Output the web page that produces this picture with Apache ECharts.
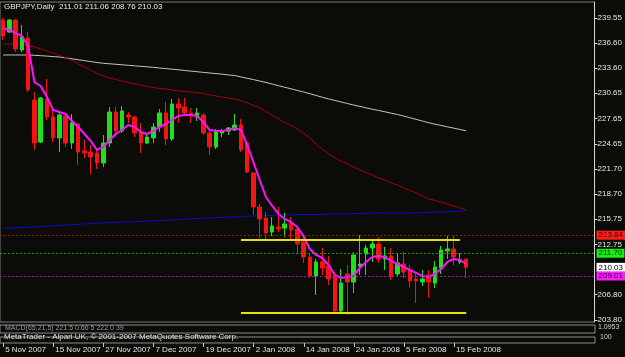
<!DOCTYPE html>
<html><head><meta charset="utf-8">
<script src="https://cdn.jsdelivr.net/npm/echarts@6/dist/echarts.min.js"></script>
<style>html,body{margin:0;padding:0;background:#0b0b08;}#c{width:625px;height:357px;}</style>
</head><body><div id="c"></div><script>
// ---- data ----
const dates = ['5 Nov 2007','6 Nov 2007','7 Nov 2007','8 Nov 2007','9 Nov 2007','12 Nov 2007','13 Nov 2007','14 Nov 2007',
 '15 Nov 2007','16 Nov 2007','19 Nov 2007','20 Nov 2007','21 Nov 2007','22 Nov 2007','23 Nov 2007','26 Nov 2007',
 '27 Nov 2007','28 Nov 2007','29 Nov 2007','30 Nov 2007','3 Dec 2007','4 Dec 2007','5 Dec 2007','6 Dec 2007',
 '7 Dec 2007','10 Dec 2007','11 Dec 2007','12 Dec 2007','13 Dec 2007','14 Dec 2007','17 Dec 2007','18 Dec 2007',
 '19 Dec 2007','20 Dec 2007','21 Dec 2007','24 Dec 2007','26 Dec 2007','27 Dec 2007','28 Dec 2007','31 Dec 2007',
 '2 Jan 2008','3 Jan 2008','4 Jan 2008','7 Jan 2008','8 Jan 2008','9 Jan 2008','10 Jan 2008','11 Jan 2008',
 '14 Jan 2008','15 Jan 2008','16 Jan 2008','17 Jan 2008','18 Jan 2008','21 Jan 2008','22 Jan 2008','23 Jan 2008',
 '24 Jan 2008','25 Jan 2008','28 Jan 2008','29 Jan 2008','30 Jan 2008','31 Jan 2008','1 Feb 2008','4 Feb 2008',
 '5 Feb 2008','6 Feb 2008','7 Feb 2008','8 Feb 2008','11 Feb 2008','12 Feb 2008','13 Feb 2008','14 Feb 2008',
 '15 Feb 2008','18 Feb 2008','19 Feb 2008'];

const opens = [239.31,237.89,239.31,235.76,237.18,229.84,224.87,229.96,227.83,225.35,
 227.95,224.75,227.00,223.81,223.69,223.57,222.39,224.75,228.42,226.17,
 228.07,227.83,226.06,224.75,225.35,226.65,228.31,225.23,229.37,229.02,
 228.31,227.83,228.07,225.94,224.28,225.94,226.17,226.29,226.88,224.75,
 221.20,217.18,215.88,214.22,214.81,214.69,215.28,214.57,213.03,211.26,
 209.01,210.67,210.19,209.01,204.87,209.25,208.30,210.19,211.61,212.32,
 212.80,211.02,211.38,209.25,210.43,209.72,208.66,208.30,209.13,208.18,
 209.96,211.97,212.21,210.67,211.01];
const closes = [237.42,239.31,235.88,237.30,231.03,224.75,230.08,227.83,225.35,228.07,
 224.75,227.12,223.69,223.57,223.10,222.39,224.75,228.42,226.17,228.54,
 227.83,225.94,224.75,225.46,226.65,228.31,225.23,229.37,228.90,228.31,
 227.95,228.31,225.94,224.28,226.06,226.17,226.53,226.88,223.93,221.32,
 217.18,215.76,214.10,214.93,214.57,215.17,214.45,212.80,211.26,209.01,
 210.67,209.96,208.66,204.87,208.18,208.30,211.50,210.43,212.32,212.80,
 211.02,211.38,209.01,210.55,209.48,208.42,208.42,208.66,208.30,210.08,
 212.09,212.21,211.26,210.90,210.03];
const lows = [236.95,237.77,235.53,235.53,230.79,223.93,224.75,227.48,224.87,223.69,
 224.28,224.04,222.15,222.98,221.08,221.68,221.91,224.28,225.46,225.94,
 227.12,225.46,223.57,224.64,224.75,226.06,224.52,224.99,227.12,228.07,
 227.12,227.36,225.70,223.33,224.04,225.46,225.70,226.17,223.69,221.20,
 216.23,213.51,213.27,213.74,214.22,213.63,213.27,211.73,210.55,208.77,
 206.76,209.13,207.94,204.75,204.63,204.39,207.00,209.13,209.13,210.67,
 210.55,209.72,208.54,209.01,208.77,207.59,205.81,207.83,206.41,207.59,
 209.25,211.02,210.31,210.43,208.76];
const highs = [239.55,239.43,239.43,238.72,237.89,230.79,230.20,232.33,229.02,228.42,
 228.31,228.19,227.12,225.11,224.52,224.16,225.70,229.02,229.02,229.13,
 228.42,227.95,227.12,225.94,227.12,228.78,229.61,229.96,230.08,230.08,
 228.90,228.90,228.31,226.17,226.41,226.41,226.65,228.19,227.60,224.87,
 221.32,217.53,216.59,215.99,217.18,216.47,215.99,214.81,213.86,211.73,
 211.02,212.32,211.38,209.48,209.84,210.31,211.85,213.86,212.68,213.15,
 213.63,212.44,212.32,211.61,211.85,210.31,209.37,209.72,209.72,210.79,
 212.56,213.74,213.74,211.73,211.06];

// moving averages
const maFast = [238.37,238.13,237.77,237.42,236.24,231.97,231.50,230.20,228.66,228.42,
 228.19,227.36,226.65,225.82,224.99,223.93,224.28,225.11,225.82,226.29,
 226.88,226.65,226.06,225.82,226.17,226.65,227.00,227.48,227.95,228.07,
 228.07,227.95,227.24,226.29,226.17,226.17,226.29,226.53,226.29,224.52,
 222.50,220.37,218.36,217.30,216.35,215.76,215.40,214.81,213.74,212.21,
 211.50,211.14,210.31,209.13,208.77,208.89,209.01,209.96,210.67,211.26,
 211.38,211.26,210.79,210.43,210.08,209.72,209.37,209.01,208.89,209.25,
 209.84,210.67,211.02,210.90,210.43];
const maMid = [236.47,236.47,236.47,236.43,236.28,236.12,235.88,235.64,235.41,235.11,
 234.87,234.52,234.10,233.75,233.39,232.98,232.68,232.45,232.26,232.09,
 231.92,231.74,231.62,231.45,231.32,231.20,231.15,231.03,230.91,230.85,
 230.79,230.71,230.60,230.44,230.32,230.20,230.08,229.96,229.79,229.49,
 229.19,228.90,228.48,228.01,227.60,227.18,226.83,226.41,225.94,225.35,
 224.64,224.04,223.45,222.98,222.62,222.27,221.91,221.56,221.26,220.97,
 220.61,220.37,220.02,219.78,219.43,219.13,218.84,218.48,218.12,217.95,
 217.77,217.53,217.30,217.06,216.82];
const maSlow = [235.17,235.17,235.17,235.17,235.17,235.13,235.09,235.04,234.98,234.93,
 234.83,234.72,234.61,234.50,234.39,234.28,234.19,234.13,234.07,234.01,
 233.95,233.89,233.83,233.77,233.71,233.63,233.56,233.49,233.42,233.34,
 233.26,233.19,233.11,233.04,232.97,232.90,232.81,232.74,232.57,232.41,
 232.26,232.09,231.92,231.73,231.54,231.35,231.17,230.98,230.79,230.59,
 230.38,230.17,229.97,229.79,229.61,229.43,229.25,229.09,228.91,228.75,
 228.60,228.45,228.28,228.13,227.95,227.74,227.55,227.35,227.15,226.98,
 226.83,226.66,226.51,226.35,226.20];
const maLong = [214.69,214.70,214.72,214.74,214.77,214.83,214.87,214.91,214.96,215.00,
 215.05,215.08,215.13,215.18,215.22,215.26,215.30,215.33,215.36,215.39,
 215.42,215.45,215.48,215.51,215.54,215.58,215.62,215.65,215.69,215.72,
 215.76,215.81,215.84,215.88,215.91,215.95,215.98,216.00,216.04,216.07,
 216.10,216.14,216.16,216.19,216.22,216.23,216.25,216.27,216.28,216.29,
 216.30,216.31,216.33,216.34,216.35,216.37,216.39,216.41,216.43,216.46,
 216.47,216.47,216.47,216.47,216.47,216.47,216.48,216.52,216.54,216.57,
 216.59,216.61,216.64,216.67,216.70];

const priceTicks = [239.55,236.60,233.60,230.65,227.65,224.65,221.70,218.70,215.75,212.75,206.80,203.80];
const levelValues = [213.84, 211.70, 210.03, 209.01];
const rangeTop = 213.35, rangeBottom = 204.60;
const rangeStartBar = 38, rangeTopEndBar = 73, rangeBottomEndBar = 74;
const shiftBars = 20;

// ---- chart ----
const categories = dates.concat(Array.from({length: shiftBars}, (_, k) => 'shift' + k));
const candles = opens.map((o, i) => [o, closes[i], lows[i], highs[i]]);
const last = opens.length - 1;
const FONT = 'Liberation Sans, Arial, sans-serif';
const labelInterval = (idx) => idx < dates.length && idx % 8 === 0;

const levelStyles = [
  {line: '#a31515', bg: '#ff1c1c', fg: '#2a0000'},
  {line: '#13a313', bg: '#16f016', fg: '#002200'},
  {line: 'rgba(0,0,0,0)', bg: '#ffffff', fg: '#000000'},
  {line: '#a018a0', bg: '#ff1cff', fg: '#200020'}
];

const chart = echarts.init(document.getElementById('c'), null, {renderer: 'canvas'});
chart.setOption({
  backgroundColor: '#0b0b08',
  animation: false,
  textStyle: {fontFamily: FONT},
  title: [
    {text: 'GBPJPY,Daily  ' + [opens[last], highs[last], lows[last], closes[last]].map(v => v.toFixed(2)).join(' '),
     left: 4, top: 3, padding: 0, textStyle: {color: '#e8e8e8', fontSize: 8, fontWeight: 'normal', fontFamily: FONT}},
    {text: 'MACD(65,21,5) 221.5 0.66 5 222.0 39', left: 5, top: 325, padding: 0,
     textStyle: {color: '#9a9a9a', fontSize: 7, fontWeight: 'normal', fontFamily: FONT}},
    {text: 'MetaTrader - Alpari UK, \u00a9 2001-2007 MetaQuotes Software Corp.', left: 4, top: 333, padding: 0,
     textStyle: {color: '#e0e0e0', fontSize: 8, fontWeight: 'normal', fontFamily: FONT}},
    {text: '1.0953', left: 598, top: 324, padding: 0, textStyle: {color: '#d0d0d0', fontSize: 7, fontWeight: 'normal', fontFamily: FONT}},
    {text: '100', left: 600, top: 334, padding: 0, textStyle: {color: '#d0d0d0', fontSize: 7, fontWeight: 'normal', fontFamily: FONT}}
  ],
  grid: [
    {left: 0, top: 2, width: 595, height: 320, show: true, borderColor: '#7c7c7c', borderWidth: 1},
    {left: 0, top: 325, width: 595, height: 8, show: true, borderColor: '#8c8c8c', borderWidth: 1},
    {left: 0, top: 337, width: 595, height: 6, show: true, borderColor: '#8c8c8c', borderWidth: 1}
  ],
  xAxis: [
    {gridIndex: 0, type: 'category', data: categories, boundaryGap: true,
     axisLine: {show: false}, axisTick: {show: false}, axisLabel: {show: false}, splitLine: {show: false}},
    {gridIndex: 1, type: 'category', data: categories, boundaryGap: true,
     axisLine: {show: false}, axisTick: {show: false}, axisLabel: {show: false}, splitLine: {show: false}},
    {gridIndex: 2, type: 'category', data: categories, boundaryGap: true, position: 'bottom',
     axisLine: {show: false},
     axisTick: {show: true, alignWithLabel: true, interval: labelInterval, length: 4, lineStyle: {color: '#c8c8c8'}},
     axisLabel: {show: true, interval: labelInterval, align: 'left', color: '#e2e2e2', fontSize: 8, margin: 3,
                 padding: [0, 0, 0, 2], fontFamily: FONT},
     splitLine: {show: false}}
  ],
  yAxis: [
    {gridIndex: 0, type: 'value', position: 'right', min: 203.563, max: 241.444,
     splitLine: {show: false},
     axisLine: {show: true, lineStyle: {color: '#d4d4d4'}},
     axisTick: {show: true, length: 3, customValues: priceTicks, lineStyle: {color: '#d4d4d4'}},
     axisLabel: {show: true, customValues: priceTicks, formatter: v => v.toFixed(2), color: '#e6e6e6',
                 fontSize: 8, margin: 3, fontFamily: FONT}},
    {gridIndex: 1, type: 'value', min: 0, max: 1, show: false},
    {gridIndex: 2, type: 'value', min: 0, max: 1, show: false}
  ],
  series: [
    {type: 'line', name: 'MA long', xAxisIndex: 0, yAxisIndex: 0, data: maLong, symbol: 'none',
     lineStyle: {color: '#0a0ad2', width: 1}, z: 2, silent: true},
    {type: 'line', name: 'MA slow', xAxisIndex: 0, yAxisIndex: 0, data: maSlow, symbol: 'none',
     lineStyle: {color: '#c4c4c4', width: 1}, z: 2, silent: true},
    {type: 'line', name: 'MA mid', xAxisIndex: 0, yAxisIndex: 0, data: maMid, symbol: 'none',
     lineStyle: {color: '#a80000', width: 1}, z: 2, silent: true},
    {type: 'candlestick', name: 'GBPJPY', xAxisIndex: 0, yAxisIndex: 0, data: candles, barWidth: 4, z: 3,
     itemStyle: {color: '#1ee01e', color0: '#f41414', borderColor: '#1ee01e', borderColor0: '#f41414', borderWidth: 1},
     markLine: {
       silent: true, symbol: ['none', 'none'], animation: false,
       data: levelValues.map((v, k) => ({
         yAxis: v,
         lineStyle: {color: levelStyles[k].line, type: [2, 2], width: 1},
         label: {show: true, position: 'end', distance: 2, formatter: p => Number(p.value).toFixed(2),
                 backgroundColor: levelStyles[k].bg, color: levelStyles[k].fg, fontSize: 8,
                 padding: [1, 2, 0, 2], fontFamily: FONT}
       })).concat([
         [{coord: [rangeStartBar, rangeTop], lineStyle: {color: '#e4e400', width: 2, type: 'solid'}, label: {show: false}},
          {coord: [rangeTopEndBar, rangeTop]}],
         [{coord: [rangeStartBar, rangeBottom], lineStyle: {color: '#e4e400', width: 2, type: 'solid'}, label: {show: false}},
          {coord: [rangeBottomEndBar, rangeBottom]}]
       ])
     }},
    {type: 'line', name: 'MA fast', xAxisIndex: 0, yAxisIndex: 0, data: maFast, symbol: 'none',
     lineStyle: {color: '#ff10ff', width: 2}, z: 4, silent: true}
  ]
});
</script></body></html>
